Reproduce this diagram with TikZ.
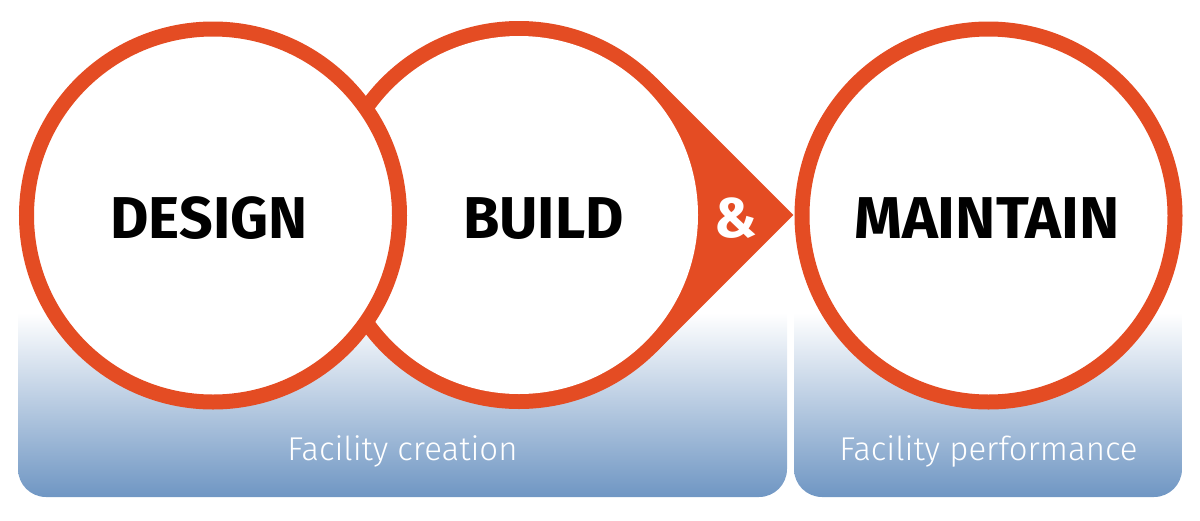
\documentclass[tikz,border=0pt]{standalone}
\usepackage{fontspec}
\setmainfont{Fira Sans}
\newfontfamily\lightf{Fira Sans Light}
\definecolor{orng}{HTML}{E44C23}
\definecolor{fblue}{HTML}{6F96C3}
\tikzset{
  ring/.style={circle, draw=orng, line width=15pt, fill=white, minimum size=373pt, inner sep=0pt},
  hd/.style={font=\fontsize{59}{59}\selectfont\bfseries, text=black, inner sep=0pt, anchor=base},
  amp/.style={font=\fontsize{56}{56}\selectfont\bfseries, text=white, inner sep=0pt, anchor=base},
  sub/.style={font=\lightf\fontsize{33}{33}\selectfont, text=white, inner sep=0pt, anchor=base},
  band/.style={top color=white, bottom color=fblue}
}
\begin{document}
\begin{tikzpicture}[x=1pt,y=-1pt]
\useasboundingbox (0,0) rectangle (1200,520);
% background bands (rounded only at the bottom)
\begin{scope}
  \clip[rounded corners=28pt] (18,250) rectangle (787,497);
  \shade[band] (18,313) rectangle (787,497);
\end{scope}
\begin{scope}
  \clip[rounded corners=28pt] (794,250) rectangle (1182,497);
  \shade[band] (794,313) rectangle (1182,497);
\end{scope}
% BUILD arrow shape
\node[circle, fill=orng, minimum size=388pt, inner sep=0pt] (buildout) at (519,215) {};
\coordinate (tipT) at (656.2,77.8);
\coordinate (tipB) at (656.2,352.2);
\coordinate (tip) at (793.4,215);
\fill[orng] (tipT) -- (tip) -- (tipB) -- cycle;
\node[circle, fill=white, minimum size=358pt, inner sep=0pt] (build) at (519,215) {};
% DESIGN and MAINTAIN rings
\node[ring] (design) at (213,215.5) {};
\node[ring] (maintain) at (988.5,215.5) {};
% labels
\node[hd] (tdesign) at (209,238) {DESIGN};
\node[hd] (tbuild) at (543.5,238) {BUILD};
\node[hd, xscale=1.03] (tmaintain) at (987,238) {MAINTAIN};
\node[amp] (tamp) at (736,237) {\&};
\node[sub] (tcreate) at (402.5,460) {Facility creation};
\node[sub] (tperf) at (988.5,460) {Facility performance};
\end{tikzpicture}
\end{document}
